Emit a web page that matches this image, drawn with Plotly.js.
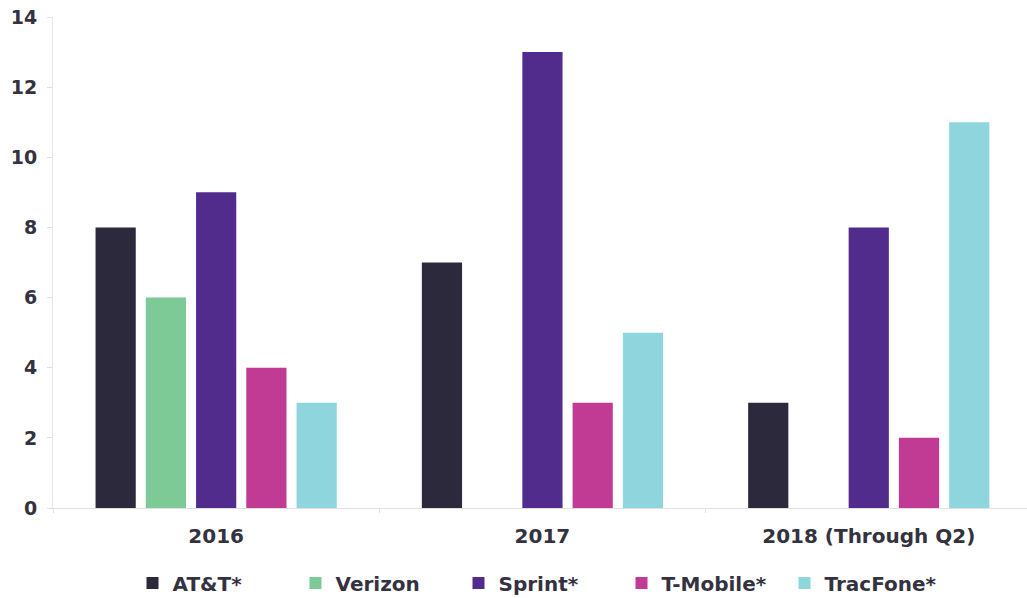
<!DOCTYPE html>
<html>
<head>
<meta charset="utf-8">
<script src="https://cdn.plot.ly/plotly-3.0.1.min.js"></script>
<style>html,body{margin:0;padding:0;background:#fff;}#chart{width:1027px;height:598px;}</style>
</head>
<body>
<div id="chart"></div>
<script>
const categories = ["2016", "2017", "2018 (Through Q2)"];
const seriesNames = ["AT&T*", "Verizon", "Sprint*", "T-Mobile*", "TracFone*"];
const attValues = [8, 7, 3];
const verizonValues = [6, 0, 0];
const sprintValues = [9, 13, 8];
const tmobileValues = [4, 3, 2];
const tracfoneValues = [3, 5, 11];
const yTicks = [0, 2, 4, 6, 8, 10, 12, 14];

const colors = ["#2d293d", "#7dca96", "#522c8d", "#c13a93", "#8fd5de"];
const allValues = [attValues, verizonValues, sprintValues, tmobileValues, tracfoneValues];

const fontFam = "'DejaVu Sans', sans-serif";
const textColor = "#34323f";
const traces = allValues.map((vals, i) => ({
  type: "bar",
  name: seriesNames[i],
  x: categories,
  y: vals,
  marker: {color: colors[i]},
  hoverinfo: "skip"
}));

const layout = {
  width: 1027, height: 598,
  margin: {l: 53, r: 0, t: 17, b: 90, autoexpand: false},
  paper_bgcolor: "#fff", plot_bgcolor: "#fff",
  barmode: "group",
  bargap: 0.23,
  bargroupgap: 0.2,
  font: {family: fontFam, color: textColor},
  showlegend: true,
  legend: {
    orientation: "h", x: 0.5, xanchor: "center",
    yref: "container", y: 0.025, yanchor: "middle",
    font: {size: 20, family: fontFam, color: textColor, weight: "bold"},
    itemwidth: 30, traceorder: "normal",
    entrywidth: 118, entrywidthmode: "pixels"
  },
  xaxis: {
    type: "category",
    range: [-0.5, 2.485],
    showline: true, linecolor: "#e0e0e0", linewidth: 1,
    ticks: "outside", tickson: "boundaries", ticklen: 4, tickcolor: "#e0e0e0",
    ticklabelstandoff: 10,
    tickfont: {size: 20, family: fontFam, color: textColor, weight: "bold"},
    showgrid: false, zeroline: false, fixedrange: true, automargin: false
  },
  yaxis: {
    range: [0, 14],
    tickvals: yTicks,
    showline: true, linecolor: "#e6e6e6", linewidth: 1,
    ticks: "outside", ticklen: 5, tickcolor: "#e0e0e0",
    ticklabelstandoff: 6,
    tickfont: {size: 19, family: fontFam, color: textColor, weight: "bold"},
    showgrid: false, zeroline: false, fixedrange: true, automargin: false
  }
};

Plotly.newPlot("chart", traces, layout, {displayModeBar: false, staticPlot: true});
</script>
</body>
</html>
